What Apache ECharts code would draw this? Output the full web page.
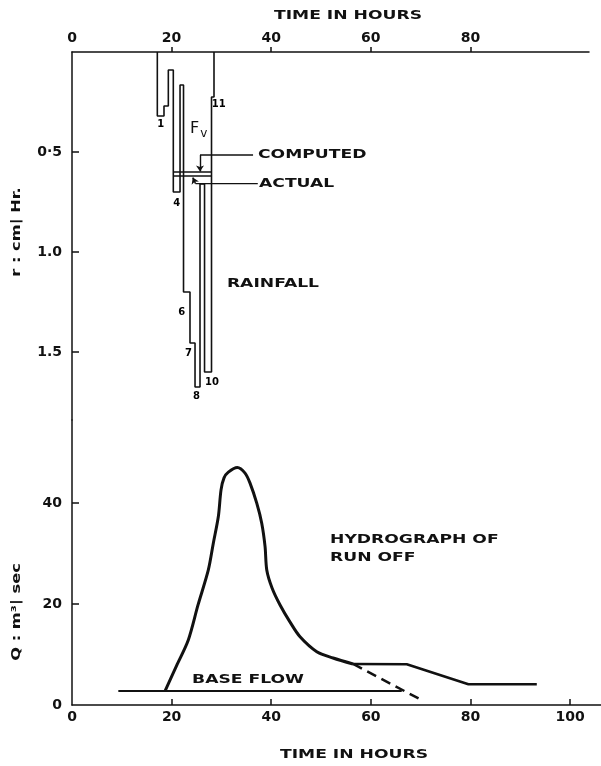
<!DOCTYPE html>
<html>
<head>
<meta charset="utf-8">
<script src="https://cdn.jsdelivr.net/npm/echarts@6/dist/echarts.min.js"></script>
<style>
  html, body { margin: 0; padding: 0; background: #fff; }
  #chart { width: 601px; height: 766px; }
</style>
</head>
<body>
<div id="chart"></div>
<script>
// Storm hyetograph: hourly block edges (hours) and rainfall intensity (cm/hr)
const rainEdges  = [17.13, 18.47, 19.34, 20.34, 21.69, 22.39, 23.69, 24.70, 25.70, 26.61, 28.01, 28.51];
const rainDepths = [0.32, 0.27, 0.09, 0.70, 0.165, 1.20, 1.455, 1.675, 0.66, 1.60, 0.225];
const rainNumbers = ['1', '', '', '4', '', '6', '7', '8', '', '10', '11'];

// Infiltration index levels (cm/hr)
const phiComputed = 0.60;
const phiActual = 0.62;

// Runoff hydrograph: time (hours) and discharge (m3/sec)
const hydroTime = [18.67, 21.00, 23.35, 25.30, 27.37, 28.37, 29.38, 29.92, 30.52, 31.39, 33.19, 34.74, 35.74, 37.09, 38.09, 38.76, 39.10, 40.16, 41.77, 43.78, 45.78, 49.14, 52.41, 56.43];
const hydroFlow = [2.77, 7.80, 12.87, 19.80, 26.73, 32.02, 37.29, 42.57, 44.95, 46.08, 46.99, 45.88, 43.90, 39.94, 35.98, 31.35, 26.73, 23.17, 19.80, 16.40, 13.50, 10.55, 9.31, 8.12];
const tailTime = [56.43, 67.21, 79.58, 93.31];
const tailFlow = [8.12, 8.06, 4.10, 4.10];
const recessTime = [56.43, 69.88];
const recessFlow = [8.12, 1.13];
const baseTime = [9.30, 66.20];
const baseFlow = [2.77, 2.77];

// Tick values and labels
const timeTicksTop = [0, 20, 40, 60, 80];
const timeTicksBottom = [0, 20, 40, 60, 80, 100];
const rainTicks = [0.5, 1.0, 1.5];
const rainTickLabels = ['0·5', '1.0', '1.5'];
const flowTicks = [0, 20, 40];

const ink = '#111';
const tickFont = { fontFamily: 'DejaVu Sans', fontWeight: 'bold', fontSize: 14, color: ink };
const zip = (a, b) => a.map((v, i) => [v, b[i]]);

// Outline of the hanging rainfall blocks
const outline = [[rainEdges[0], 0]];
rainDepths.forEach((d, i) => { outline.push([rainEdges[i], d], [rainEdges[i + 1], d]); });
outline.push([rainEdges[rainEdges.length - 1], 0]);

// Block numbers, placed relative to the block bottom (pixel offsets)
const numberOffsets = { '1': [0, 8], '4': [0, 11], '6': [-5, 20], '7': [-4, 10], '8': [-1, 9], '10': [4, 10], '11': [6, 7] };
const numberData = [];
rainNumbers.forEach((n, i) => {
  if (!n) return;
  numberData.push({ name: n, value: [(rainEdges[i] + rainEdges[i + 1]) / 2, rainDepths[i]], label: { offset: numberOffsets[n] } });
});

// Leader lines for the two index levels
const computedLeader = [[36.35, 0.515], [25.7, 0.515]];
const computedArrow = [[25.7, 0.515], [25.7, 0.597]];
const actualLeader = [[37.3, 0.658], [24.8, 0.658]];
const actualArrow = [[24.8, 0.658], [24.25, 0.628]];

const plainLine = (xi, data, width, extra) => Object.assign({
  type: 'line', xAxisIndex: xi, yAxisIndex: xi, data: data, symbol: 'none',
  lineStyle: { color: ink, width: width }, silent: true
}, extra || {});

const option = {
  animation: false,
  backgroundColor: '#fff',
  grid: [
    { left: 72, top: 52, width: 517, height: 368 },
    { left: 72, top: 420, width: 529, height: 285 }
  ],
  xAxis: [
    {
      gridIndex: 0, type: 'value', position: 'top', min: 0, max: 103.8,
      axisLine: { onZero: false, lineStyle: { color: ink, width: 1.5 } },
      axisTick: { inside: false, length: 5, customValues: timeTicksTop.filter(v => v > 0), lineStyle: { color: ink, width: 1.5 } },
      axisLabel: Object.assign({ customValues: timeTicksTop, margin: 7 }, tickFont),
      splitLine: { show: false }
    },
    {
      gridIndex: 1, type: 'value', position: 'bottom', min: 0, max: 106.2,
      axisLine: { onZero: false, lineStyle: { color: ink, width: 1.5 } },
      axisTick: { inside: true, length: 6, customValues: timeTicksBottom.filter(v => v > 0), lineStyle: { color: ink, width: 1.5 } },
      axisLabel: Object.assign({ customValues: timeTicksBottom, margin: 5 }, tickFont),
      splitLine: { show: false }
    }
  ],
  yAxis: [
    {
      gridIndex: 0, type: 'value', inverse: true, min: 0, max: 1.84,
      axisLine: { onZero: false, lineStyle: { color: ink, width: 1.5 } },
      axisTick: { inside: true, length: 7, customValues: rainTicks, lineStyle: { color: ink, width: 1.5 } },
      axisLabel: Object.assign({
        customValues: rainTicks, margin: 10,
        formatter: v => {
          let k = 0;
          rainTicks.forEach((t, i) => { if (Math.abs(t - v) < Math.abs(rainTicks[k] - v)) k = i; });
          return rainTickLabels[k];
        }
      }, tickFont),
      splitLine: { show: false }
    },
    {
      gridIndex: 1, type: 'value', min: 0, max: 56.4,
      axisLine: { onZero: false, lineStyle: { color: ink, width: 1.5 } },
      axisTick: { inside: true, length: 7, customValues: flowTicks.filter(v => v > 0), lineStyle: { color: ink, width: 1.5 } },
      axisLabel: Object.assign({ customValues: flowTicks, margin: 10 }, tickFont),
      splitLine: { show: false }
    }
  ],
  series: [
    plainLine(0, outline, 1.6),
    plainLine(0, [[rainEdges[3], phiComputed], [rainEdges[10], phiComputed]], 1.4),
    plainLine(0, [[rainEdges[3], phiActual], [rainEdges[10], phiActual]], 1.4),
    plainLine(0, computedLeader, 1.4),
    plainLine(0, actualLeader, 1.4),
    {
      type: 'lines', coordinateSystem: 'cartesian2d', xAxisIndex: 0, yAxisIndex: 0,
      symbol: ['none', 'arrow'], symbolSize: 6, silent: true,
      lineStyle: { color: ink, width: 1.4, opacity: 1, curveness: 0 },
      data: [{ coords: computedArrow }, { coords: actualArrow }]
    },
    {
      type: 'scatter', xAxisIndex: 0, yAxisIndex: 0, symbolSize: 0, silent: true,
      itemStyle: { opacity: 1 },
      data: numberData,
      label: { show: true, position: 'inside', formatter: '{b}', fontFamily: 'DejaVu Sans', fontWeight: 'bold', fontSize: 10, color: '#000', opacity: 1 }
    },
    plainLine(1, zip(hydroTime, hydroFlow), 3, { smooth: 0.3 }),
    plainLine(1, zip(tailTime, tailFlow), 2.5),
    plainLine(1, zip(recessTime, recessFlow), 2.5, { lineStyle: { color: ink, width: 2.5, type: [10, 6] } }),
    plainLine(1, zip(baseTime, baseFlow), 1.8)
  ]
};

const chart = echarts.init(document.getElementById('chart'));
chart.setOption(option);

// Text notes anchored in data coordinates (left edge, vertical middle)
const notes = [
  { grid: 0, at: [37.35, 0.515], text: 'COMPUTED' },
  { grid: 0, at: [37.55, 0.6575], text: 'ACTUAL' },
  { grid: 0, at: [31.1, 1.16], text: 'RAINFALL' },
  { grid: 1, at: [51.8, 32.7], text: 'HYDROGRAPH OF' },
  { grid: 1, at: [51.8, 29.1], text: 'RUN OFF' },
  { grid: 1, at: [24.1, 4.95], text: 'BASE FLOW' }
];
const letterFont = 'bold 13px "DejaVu Sans"';
const textEl = (x, y, text, opts) => Object.assign({
  type: 'text', x: x, y: y, scaleX: 1.32, silent: true,
  style: { text: text, font: letterFont, fill: ink, align: 'left', verticalAlign: 'middle', textAlign: 'left', textVerticalAlign: 'middle' }
}, opts || {});

const graphics = notes.map(n => {
  const p = chart.convertToPixel({ gridIndex: n.grid }, n.at);
  return textEl(p[0], p[1], n.text);
});

// Infiltration index symbol
const fv = chart.convertToPixel({ gridIndex: 0 }, [23.7, 0.385]);
graphics.push({
  type: 'text', x: fv[0], y: fv[1], silent: true,
  style: {
    text: '{f|F}{s|v}', fill: ink, align: 'left', verticalAlign: 'middle', textAlign: 'left', textVerticalAlign: 'middle',
    rich: {
      f: { font: '16px "DejaVu Sans"', fill: ink },
      s: { font: '12px "DejaVu Sans"', fill: ink, padding: [9, 0, 0, 1] }
    }
  }
});

// Axis titles
const center = { align: 'center', textAlign: 'center' };
const topTitle = textEl(348, 16, 'TIME IN HOURS');
Object.assign(topTitle.style, center);
const bottomTitle = textEl(354, 755, 'TIME IN HOURS');
Object.assign(bottomTitle.style, center);
const rTitle = textEl(17, 232, 'r : cm| Hr.', { rotation: Math.PI / 2, scaleX: 1.25 });
Object.assign(rTitle.style, center);
const qTitle = textEl(17, 612, 'Q : m³| sec', { rotation: Math.PI / 2, scaleX: 1.25 });
Object.assign(qTitle.style, center);
graphics.push(topTitle, bottomTitle, rTitle, qTitle);

chart.setOption({ graphic: graphics });
</script>
</body>
</html>
